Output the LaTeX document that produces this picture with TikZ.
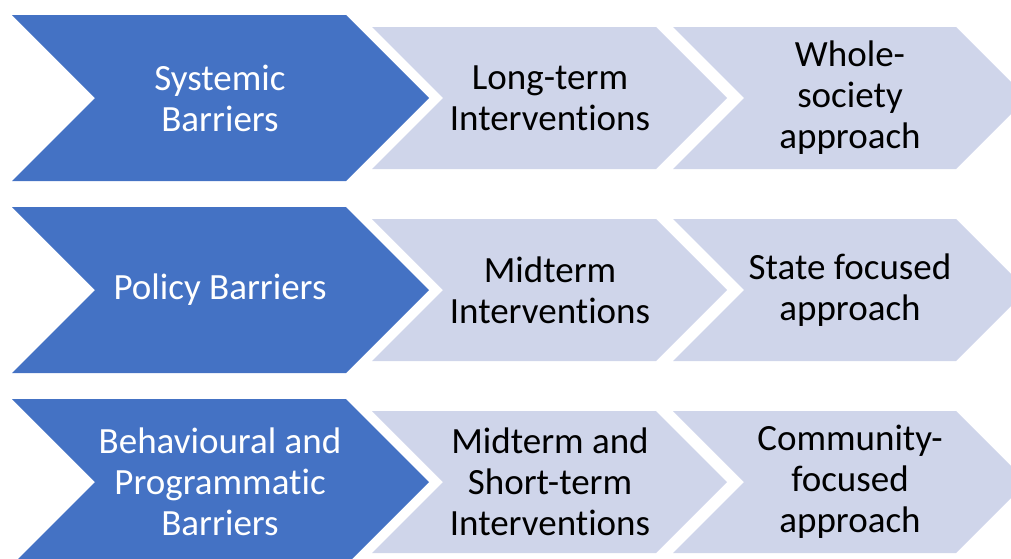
\documentclass[tikz,border=0pt]{standalone}
\usepackage{fontspec}
\setmainfont{Carlito}[Ligatures={NoCommon}]
\definecolor{barrierblue}{HTML}{4472C4}
\definecolor{steplight}{HTML}{CFD5EA}

\begin{document}
\begin{tikzpicture}[x=1pt,y=-1pt]
\tikzstyle{every node}=[font=\fontsize{37}{41}\selectfont, align=center, inner sep=0pt];
\tikzstyle{barriertext}=[text=white];
\tikzstyle{steptext}=[text=black];

  \useasboundingbox (0,0) rectangle (1011,558);
  \clip (0,0) rectangle (1011,558);

  % chevrons: centre y / left x / width to corner / half height / colour
  \foreach \c in {98, 290, 482}
  {
    \foreach \l/\w/\h/\col in {12/334/83/barrierblue, 372/284/71/steplight, 673/283/71/steplight}
      \fill [\col] (\l,\c-\h) -- (\l+\w,\c-\h) -- (\l+\w+\h,\c) -- (\l+\w,\c+\h)
        -- (\l,\c+\h) -- (\l+\h,\c) -- cycle;
  }

  \node[barriertext] (sys) at (220,98) {Systemic\\Barriers};
  \node[steptext] (longterm) at (550,98) {Long-term\\Interventions};
  \node[steptext] (whole) at (850,98) {Whole-\\society\\approach};

  \node[barriertext] (pol) at (220,290) {Policy Barriers};
  \node[steptext] (midterm) at (550,290) {Midterm\\Interventions};
  \node[steptext] (state) at (850,290) {State focused\\approach};

  \node[barriertext] (beh) at (220,482) {Behavioural and\\Programmatic\\Barriers};
  \node[steptext] (shortterm) at (550,482) {Midterm and\\Short-term\\Interventions};
  \node[steptext] (comm) at (850,482) {Community-\\focused\\approach};

\end{tikzpicture}
\end{document}
